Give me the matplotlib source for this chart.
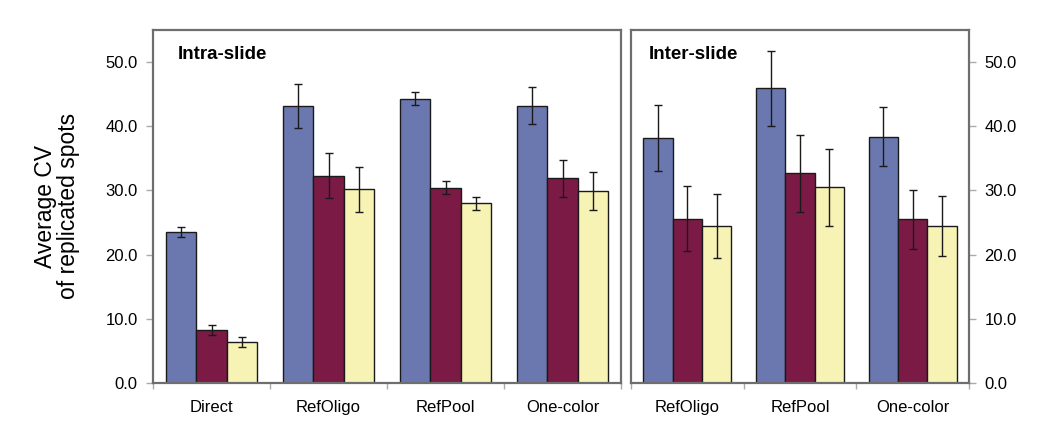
import matplotlib
matplotlib.use("Agg")
import matplotlib.pyplot as plt
import numpy as np

plt.rcParams['font.family'] = ['Liberation Sans', 'DejaVu Sans']

intra_categories = ["Direct", "RefOligo", "RefPool", "One-color"]
inter_categories = ["RefOligo", "RefPool", "One-color"]

intra_s1 = [23.5, 43.2, 44.3, 43.2]
intra_s1_err = [0.8, 3.4, 1.0, 2.9]
intra_s2 = [8.3, 32.3, 30.4, 31.9]
intra_s2_err = [0.8, 3.5, 1.0, 2.9]
intra_s3 = [6.4, 30.2, 28.0, 29.9]
intra_s3_err = [0.8, 3.5, 1.0, 2.9]

inter_s1 = [38.2, 45.9, 38.4]
inter_s1_err = [5.1, 5.9, 4.6]
inter_s2 = [25.6, 32.7, 25.5]
inter_s2_err = [5.1, 6.0, 4.6]
inter_s3 = [24.5, 30.5, 24.5]
inter_s3_err = [5.0, 6.0, 4.7]

yticks = [0, 10, 20, 30, 40, 50]
colors = ["#6b78b0", "#7b1a45", "#f7f3b5"]
spine_col = "#6e6e6e"

fig = plt.figure(figsize=(10.53, 4.48), dpi=100)
axL = fig.add_axes([153/1053, 65/448, 468/1053, 353/448])
axR = fig.add_axes([631/1053, 65/448, 338/1053, 353/448])

w = 0.26

def draw(ax, cats, vals, errs, title, side):
    x = np.arange(len(cats))
    for i, (v, e) in enumerate(zip(vals, errs)):
        ax.bar(x + (i - 1) * w, v, w, color=colors[i], edgecolor="#1a1a1a",
               linewidth=1.0, zorder=2)
        ax.errorbar(x + (i - 1) * w, v, yerr=e, fmt="none", ecolor="#1a1a1a",
                    elinewidth=1.0, capsize=3, capthick=1.0, zorder=3)
    ax.set_xlim(-0.5, len(cats) - 0.5)
    ax.set_ylim(0, 55)
    ax.set_xticks(x)
    ax.set_xticklabels(cats, fontsize=12)
    ax.set_xticks(np.arange(len(cats) + 1) - 0.5, minor=True)
    ax.tick_params(axis="x", which="major", length=0, pad=12)
    ax.tick_params(axis="x", which="minor", length=4, color="#aaaaaa", width=1)
    ax.set_yticks(yticks)
    ax.set_yticklabels([f"{t:.1f}" for t in yticks], fontsize=12)
    ax.tick_params(axis="y", length=5, color="#aaaaaa", width=1, pad=6)
    if side == "right":
        ax.yaxis.tick_right()
        ax.tick_params(axis="y", left=False, right=True)
    for s in ax.spines.values():
        s.set_color(spine_col)
        s.set_linewidth(1.6)
    ax.text(0.052, 0.93, title, transform=ax.transAxes, fontsize=13.5,
            fontweight="bold", va="center", ha="left")

draw(axL, intra_categories, [intra_s1, intra_s2, intra_s3],
     [intra_s1_err, intra_s2_err, intra_s3_err], "Intra-slide", "left")
draw(axR, inter_categories, [inter_s1, inter_s2, inter_s3],
     [inter_s1_err, inter_s2_err, inter_s3_err], "Inter-slide", "right")

fig.text(57/1053, 1 - 206/448, "Average CV\nof replicated spots", rotation=90,
         ha="center", va="center", fontsize=16.5, linespacing=0.95)

fig.savefig("out.png", dpi=100)
